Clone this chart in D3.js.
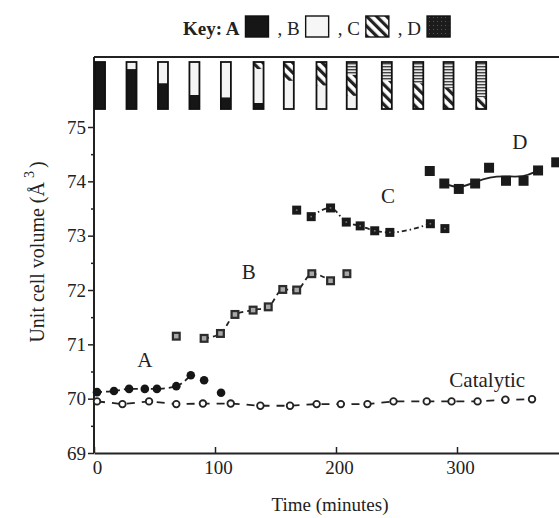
<!DOCTYPE html>
<html>
<head>
<meta charset="utf-8">
<script src="https://cdn.jsdelivr.net/npm/d3@7"></script>
<style>
  body { margin: 0; background: #fff; }
  text { font-family: "Liberation Serif", "Times New Roman", serif; fill: #222; }
</style>
</head>
<body>
<svg id="chart" width="559" height="518"></svg>
<script>
// phase A (filled circles)
const aTime = [2.5, 16.5, 29, 42, 52, 68, 80, 91, 105];
const aVol  = [70.12, 70.14, 70.18, 70.18, 70.18, 70.23, 70.43, 70.34, 70.11];
// phase B (grey squares)
const bTime = [68, 91, 104.5, 116.5, 131.5, 144, 156, 167.5, 180, 195.5, 209];
const bVol  = [71.15, 71.11, 71.2, 71.55, 71.63, 71.69, 72.01, 72.0, 72.3, 72.17, 72.3];
// phase C (black squares)
const cTime = [167.5, 179.5, 195.5, 208.5, 220, 232, 244.5, 278, 290];
const cVol  = [73.47, 73.35, 73.51, 73.25, 73.18, 73.09, 73.06, 73.22, 73.13];
// phase D (black squares)
const dTime = [277.5, 289.5, 301.5, 315, 326.5, 340.5, 355, 367, 382];
const dVol  = [74.19, 73.96, 73.86, 73.96, 74.25, 74.01, 74.01, 74.2, 74.35];
// smooth fit drawn through phase D
const dFitTime = [289.5, 301.5, 315, 327, 340, 355, 367];
const dFitVol  = [73.96, 73.86, 73.99, 74.08, 74.1, 74.07, 74.2];
// catalytic run (open circles)
const catTime = [2.5, 23.5, 45.5, 68, 90, 113, 137.5, 162, 184, 204, 226, 247.5, 275, 295.5, 317, 340, 362];
const catVol  = [69.95, 69.9, 69.95, 69.9, 69.91, 69.91, 69.87, 69.87, 69.9, 69.9, 69.9, 69.95, 69.95, 69.95, 69.95, 69.98, 69.99];

// composition bars along the top (fractions, bottom to top: A, B, C, D)
const barTime = [5, 31, 57, 83, 109, 136, 161, 188, 213, 242, 268, 293, 320];
const fracA = [1, 0.85, 0.55, 0.3, 0.25, 0.13, 0, 0, 0, 0, 0, 0, 0];
const fracB = [0, 0.15, 0.45, 0.7, 0.75, 0.72, 0.6, 0.5, 0.28, 0, 0, 0, 0];
const fracC = [0, 0, 0, 0, 0, 0.15, 0.4, 0.5, 0.45, 0.6, 0.55, 0.45, 0.25];
const fracD = [0, 0, 0, 0, 0, 0, 0, 0, 0.27, 0.4, 0.45, 0.55, 0.75];

const yTicks = [69, 70, 71, 72, 73, 74, 75];
const yMinor = [69.5, 70.5, 71.5, 72.5, 73.5, 74.5];
const xTicks = [0, 100, 200, 300];

const svg = d3.select("#chart");
const margin = { top: 57, left: 94, bottom: 453 };

const x = d3.scaleLinear().domain([0, 400]).range([margin.left, margin.left + 484]);
const y = d3.scaleLinear().domain([69, 75]).range([453, 127]);

// patterns
const defs = svg.append("defs");
defs.append("pattern").attr("id", "hatch").attr("patternUnits", "userSpaceOnUse")
  .attr("width", 7).attr("height", 7).attr("patternTransform", "rotate(-45)")
  .call(p => {
    p.append("rect").attr("width", 7).attr("height", 7).attr("fill", "#fff");
    p.append("rect").attr("width", 3.2).attr("height", 7).attr("fill", "#222");
  });
defs.append("pattern").attr("id", "stripes").attr("patternUnits", "userSpaceOnUse")
  .attr("width", 4).attr("height", 3)
  .call(p => {
    p.append("rect").attr("width", 4).attr("height", 3).attr("fill", "#e8e8e8");
    p.append("rect").attr("width", 4).attr("height", 1.4).attr("fill", "#444");
  });
defs.append("pattern").attr("id", "dots").attr("patternUnits", "userSpaceOnUse")
  .attr("width", 4).attr("height", 4)
  .call(p => {
    p.append("rect").attr("width", 4).attr("height", 4).attr("fill", "#1c1c1c");
    p.append("rect").attr("x", 1).attr("y", 1).attr("width", 1).attr("height", 1).attr("fill", "#555");
  });

const phaseFill = { A: "#161616", B: "#f4f4f4", C: "url(#hatch)", D: "url(#stripes)" };

// key
const key = svg.append("g").attr("transform", "translate(0,28)");
let kx = 183;
const keyItems = [
  { label: "Key: A", bold: true, fill: "#161616" },
  { label: ", B", fill: "#f6f6f6" },
  { label: ",  C", fill: "url(#hatch)" },
  { label: ", D", fill: "url(#dots)" }
];
keyItems.forEach(k => {
  const t = key.append("text").attr("x", kx).attr("y", 7)
    .style("font-size", "19px").style("font-weight", k.bold ? "bold" : "normal")
    .text(k.label);
  kx += t.node().getComputedTextLength() + 6;
  key.append("rect").attr("x", kx).attr("y", -12).attr("width", 23).attr("height", 21)
    .attr("fill", k.fill).attr("stroke", "#111").attr("stroke-width", 1.4);
  kx += 32;
});

// frame
svg.append("line").attr("x1", margin.left).attr("x2", 559).attr("y1", margin.top).attr("y2", margin.top)
  .attr("stroke", "#222").attr("stroke-width", 2);
svg.append("line").attr("x1", margin.left).attr("x2", margin.left).attr("y1", margin.top).attr("y2", margin.bottom)
  .attr("stroke", "#222").attr("stroke-width", 2);

// composition bars
const barTop = 62, barH = 47, barW = 10;
barTime.forEach((t, i) => {
  const parts = [["A", fracA[i]], ["B", fracB[i]], ["C", fracC[i]], ["D", fracD[i]]];
  const bx = Math.max(x(t) - barW / 2, margin.left);
  let yb = barTop + barH;
  const g = svg.append("g");
  parts.forEach(([ph, f]) => {
    if (f <= 0) return;
    const h = f * barH;
    g.append("rect").attr("x", bx).attr("y", yb - h).attr("width", barW).attr("height", h)
      .attr("fill", phaseFill[ph]);
    yb -= h;
  });
  g.append("rect").attr("x", bx).attr("y", barTop).attr("width", barW).attr("height", barH)
    .attr("fill", "none").attr("stroke", "#111").attr("stroke-width", 1.8);
});

// axes
const yAxis = svg.append("g").attr("transform", `translate(${margin.left},0)`)
  .call(d3.axisLeft(y).tickValues(yTicks).tickSize(6).tickPadding(2).tickFormat(d3.format("d")));
yAxis.select(".domain").remove();
yAxis.selectAll("text").style("font-size", "19px").style("font-family", "Liberation Serif").attr("fill", "#222");
yAxis.selectAll("line").attr("stroke", "#222").attr("stroke-width", 1.5);
const yMinorG = svg.append("g").attr("transform", `translate(${margin.left},0)`)
  .call(d3.axisLeft(y).tickValues(yMinor).tickSize(3).tickFormat(""));
yMinorG.select(".domain").remove();
yMinorG.selectAll("line").attr("stroke", "#222").attr("stroke-width", 1.5);

const xAxis = svg.append("g").attr("transform", `translate(0,${margin.bottom})`)
  .call(d3.axisBottom(x).tickValues(xTicks).tickSizeInner(-6).tickSizeOuter(0).tickPadding(8));
xAxis.select(".domain").attr("stroke", "#222").attr("stroke-width", 2);
xAxis.selectAll("text").style("font-size", "19px").style("font-family", "Liberation Serif")
  .attr("fill", "#222").attr("dx", 3);
xAxis.selectAll("line").attr("stroke", "#222").attr("stroke-width", 1.5);

svg.append("text").attr("x", 330).attr("y", 511).attr("text-anchor", "middle")
  .style("font-size", "19px").text("Time (minutes)");

const yl = svg.append("text").attr("transform", "translate(44,252) rotate(-90)")
  .attr("text-anchor", "middle").style("font-size", "20px");
yl.append("tspan").text("Unit cell volume (Å");
yl.append("tspan").attr("dy", -10).attr("dx", 4).style("font-size", "14px").text("3");
yl.append("tspan").attr("dy", 10).attr("dx", 3).text(")");

// fit lines
const line = d3.line().x(d => x(d[0])).y(d => y(d[1]));
const zip = (ts, vs) => ts.map((t, i) => [t, vs[i]]);
const drawLine = (pts, dash, curve) => svg.append("path")
  .datum(pts).attr("fill", "none").attr("stroke", "#222").attr("stroke-width", 1.8)
  .attr("stroke-dasharray", dash).attr("d", line.curve(curve || d3.curveLinear));

drawLine(zip(catTime, catVol), "8,7");
drawLine(zip(aTime, aVol).slice(0, 7), "5,4", d3.curveMonotoneX);
drawLine(zip(bTime, bVol).slice(1, 10), "5,4", d3.curveMonotoneX);
drawLine(zip(cTime, cVol).slice(1, 8), "5,3,1.5,3", d3.curveMonotoneX);
drawLine(zip(dFitTime, dFitVol), null, d3.curveBasis);

// markers
svg.append("g").selectAll("circle").data(zip(catTime, catVol)).join("circle")
  .attr("cx", d => x(d[0])).attr("cy", d => y(d[1])).attr("r", 3.3)
  .attr("fill", "#fff").attr("stroke", "#222").attr("stroke-width", 1.8);
svg.append("g").selectAll("circle").data(zip(aTime, aVol)).join("circle")
  .attr("cx", d => x(d[0])).attr("cy", d => y(d[1])).attr("r", 4.3).attr("fill", "#161616");

const squares = (pts, size, fill, inner) => {
  const g = svg.append("g");
  g.selectAll("rect.o").data(pts).join("rect").attr("class", "o")
    .attr("x", d => x(d[0]) - size / 2).attr("y", d => y(d[1]) - size / 2)
    .attr("width", size).attr("height", size).attr("fill", fill);
  if (inner) {
    g.selectAll("rect.i").data(pts).join("rect").attr("class", "i")
      .attr("x", d => x(d[0]) - inner.s / 2).attr("y", d => y(d[1]) - inner.s / 2)
      .attr("width", inner.s).attr("height", inner.s).attr("fill", inner.fill);
  }
};
squares(zip(bTime, bVol), 9, "#2c2c2c", { s: 4.5, fill: "#a8a8a8" });
squares(zip(cTime, cVol), 9, "#1a1a1a", { s: 1.6, fill: "#777" });
squares(zip(dTime, dVol), 10, "#1a1a1a");

// labels
const lab = (t, tx, ty) => svg.append("text").attr("x", x(tx)).attr("y", y(ty))
  .attr("text-anchor", "middle").style("font-size", "21px").text(t);
lab("A", 42, 70.58);
lab("B", 128, 72.2);
lab("C", 243, 73.6);
lab("D", 352, 74.6);
lab("Catalytic", 325, 70.21);
</script>
</body>
</html>
